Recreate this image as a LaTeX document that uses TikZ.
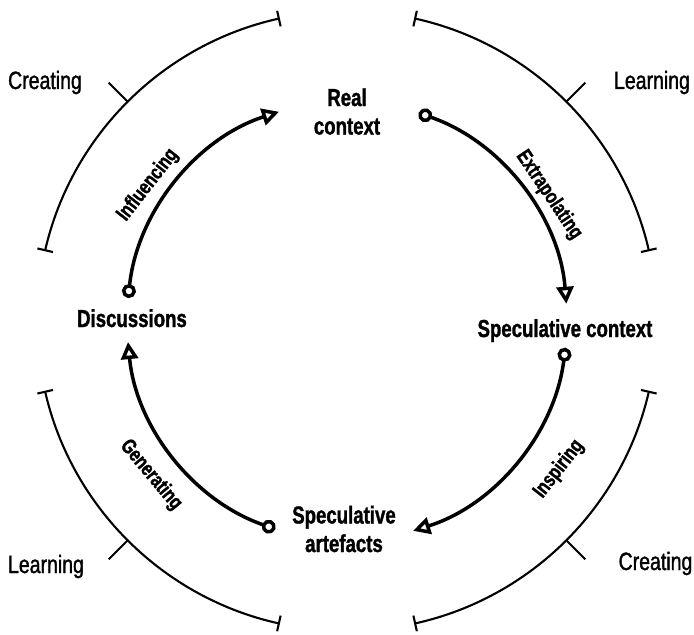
\documentclass[tikz,border=0pt]{standalone}
\usepackage{fontspec}
\setmainfont[FakeStretch=0.8]{Liberation Sans}
\newfontfamily\modefont[FakeStretch=0.78,FakeBold=1.3]{Liberation Sans}
\newfontfamily\stagefont[FakeStretch=0.76,FakeBold=1.3]{Liberation Sans Bold}
\usetikzlibrary{arrows.meta}
\begin{document}
\begin{tikzpicture}[x=1pt,y=1pt,
  outer/.style={line width=2.1pt, {Bar[width=16pt]}-{Bar[width=16pt]}},
  flow/.style={line width=3.5pt, {Circle[open,length=14pt]}-{Triangle[open,length=17pt,width=17pt]}},
  tickmark/.style={line width=2.1pt},
  stage/.style={font=\stagefont\fontsize{24.5}{28.5}\selectfont, align=center, inner sep=0pt},
  mode/.style={font=\modefont\fontsize{25}{28}\selectfont, inner sep=0pt, anchor=base},
  verb/.style={font=\stagefont\fontsize{21}{24}\selectfont, inner sep=0pt}]
\useasboundingbox (-347,-314) rectangle (347,321);

% outer arcs
\coordinate (tlA) at (167:310pt);
\coordinate (trA) at (77.5:310pt);
\coordinate (brA) at (-13:310pt);
\coordinate (blA) at (-102.5:310pt);
\draw[outer] (tlA) arc[start angle=167, end angle=102.5, radius=310pt];
\draw[outer] (trA) arc[start angle=77.5, end angle=13, radius=310pt];
\draw[outer] (brA) arc[start angle=-13, end angle=-77.5, radius=310pt];
\draw[outer] (blA) arc[start angle=-102.5, end angle=-167, radius=310pt];

% middle ticks
\coordinate (tlM) at (135:310pt);  \coordinate (tlT) at (135:337pt);
\coordinate (trM) at (45:310pt);   \coordinate (trT) at (45:337pt);
\coordinate (brM) at (-45:310pt);  \coordinate (brT) at (-45:337pt);
\coordinate (blM) at (-135:310pt); \coordinate (blT) at (-135:337pt);
\draw[tickmark] (tlM) -- (tlT);
\draw[tickmark] (trM) -- (trT);
\draw[tickmark] (brM) -- (brT);
\draw[tickmark] (blM) -- (blT);

% mode labels
\node[mode] (creatingTL) at (-302,232) {Creating};
\node[mode] (learningTR) at (305,232) {Learning};
\node[mode] (learningBL) at (-301,-252) {Learning};
\node[mode] (creatingBR) at (308.5,-249) {Creating};

% stages
\node[stage] (real) at (0,209.5) {Real\\context};
\node[stage, anchor=base] (disc) at (-215,-6) {Discussions};
\node[stage, anchor=base] (spc) at (218,-16) {Speculative context};
\node[stage] (spa) at (-3,-208) {Speculative\\artefacts};

% flows
\coordinate (infS) at (174:220pt);
\coordinate (extS) at (71:220pt);
\coordinate (insS) at (-7:220pt);
\coordinate (genS) at (-109:220pt);
\draw[flow] (infS) arc[start angle=174, end angle=108, radius=220pt];
\draw[flow] (extS) arc[start angle=71, end angle=4.5, radius=220pt];
\draw[flow] (insS) arc[start angle=-7, end angle=-72.5, radius=220pt];
\draw[flow] (genS) arc[start angle=-109, end angle=-174.5, radius=220pt];

% verbs
\node[verb, rotate=52] (inf) at (-199,136) {Influencing};
\node[verb, rotate=-56] (ext) at (202,126) {Extrapolating};
\node[verb, rotate=52] (ins) at (212,-148) {Inspiring};
\node[verb, rotate=-50] (gen) at (-196,-154) {Generating};
\end{tikzpicture}
\end{document}
